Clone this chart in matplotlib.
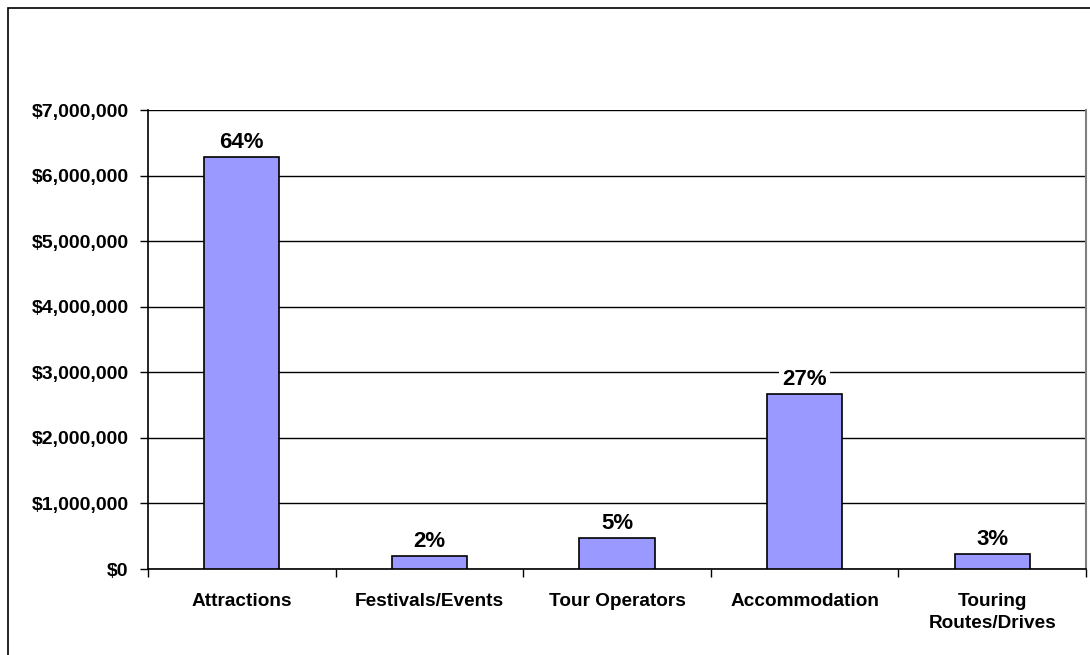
import matplotlib.pyplot as plt
from matplotlib.patches import Rectangle
from matplotlib.ticker import FuncFormatter, FixedLocator

categories = ["Attractions", "Festivals/Events", "Tour Operators", "Accommodation", "Touring\nRoutes/Drives"]
spend = [6280000, 198000, 473000, 2670000, 229000]
shares = ["64%", "2%", "5%", "27%", "3%"]
yticks = [0, 1000000, 2000000, 3000000, 4000000, 5000000, 6000000, 7000000]

plt.rcParams['font.family'] = ['Liberation Sans', 'DejaVu Sans']
plt.rcParams['font.weight'] = 'bold'

fig = plt.figure(figsize=(10.9, 6.55), dpi=100)
ax = fig.add_axes([148 / 1090, 1 - 569 / 655, (1086 - 148) / 1090, (569 - 110) / 655])

# chart area frame (only left and top edges fall inside the image)
fig.patches.append(Rectangle((8 / 1090, -0.1), 1.2, 1 - 8 / 655 + 0.1,
                             transform=fig.transFigure, fill=False,
                             edgecolor='black', linewidth=1.2))

x = range(len(categories))
ax.bar(x, spend, width=0.4, color='#9999ff', edgecolor='black', linewidth=1.2, zorder=3)

for i, (v, s) in enumerate(zip(spend, shares)):
    ax.annotate(s, (i, v), xytext=(0, 3), textcoords='offset points',
                ha='center', va='bottom', fontsize=16, fontweight='bold', zorder=4,
                bbox=dict(boxstyle='square,pad=0.15', facecolor='white', edgecolor='none'))

ax.set_xlim(-0.5, len(categories) - 0.5)
ax.set_ylim(0, 7000000)
ax.set_yticks(yticks)
ax.yaxis.set_major_formatter(FuncFormatter(lambda v, p: "${:,.0f}".format(v)))
ax.grid(axis='y', color='black', linewidth=1.0, zorder=0)

ax.set_xticks(list(x))
ax.set_xticklabels(categories, fontsize=13.7, fontweight='bold', linespacing=1.4)
ax.tick_params(axis='x', length=0, pad=17)
ax.xaxis.set_minor_locator(FixedLocator([i - 0.5 for i in range(len(categories) + 1)]))
ax.tick_params(axis='x', which='minor', length=6, width=1, color='black')
ax.tick_params(axis='y', length=6, width=1, pad=8, labelsize=14)
for lbl in ax.get_yticklabels():
    lbl.set_fontweight('bold')

ax.spines['top'].set_visible(False)
ax.spines['left'].set_linewidth(1.2)
ax.spines['bottom'].set_linewidth(1.2)
ax.spines['right'].set_color('#808080')
ax.spines['right'].set_linewidth(1.5)

fig.savefig("out.png", dpi=100)
